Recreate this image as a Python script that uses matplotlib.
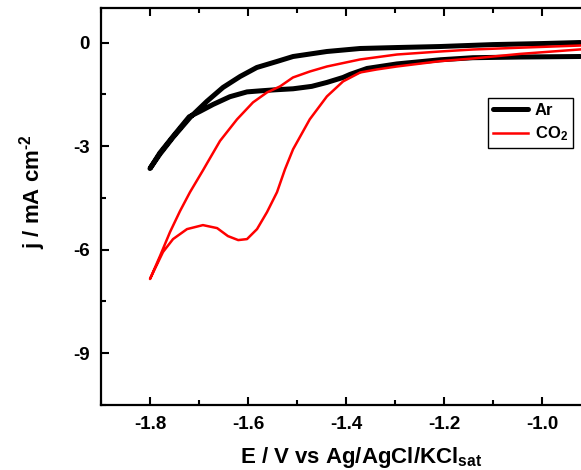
import matplotlib
matplotlib.use("Agg")
import matplotlib.pyplot as plt
from matplotlib.ticker import MultipleLocator

plt.rcParams["font.family"] = "Liberation Sans"
plt.rcParams["font.weight"] = "bold"
plt.rcParams["mathtext.fontset"] = "custom"
plt.rcParams["mathtext.default"] = "bf"
plt.rcParams["mathtext.bf"] = "Liberation Sans:bold"
plt.rcParams["mathtext.rm"] = "Liberation Sans:bold"

# Ar: cathodic branch (right to left) then return branch (left to right)
ar_E = [-0.922, -1.0, -1.1, -1.208, -1.296, -1.371, -1.439, -1.508, -1.541,
        -1.582, -1.616, -1.651, -1.684, -1.718, -1.753, -1.78, -1.80,
        -1.78, -1.753, -1.72, -1.698, -1.671, -1.637, -1.602, -1.575, -1.545,
        -1.508, -1.47, -1.439, -1.406, -1.392, -1.357, -1.296, -1.208,
        -1.141, -1.045, -0.922]
ar_j = [0.0, -0.03, -0.06, -0.116, -0.145, -0.173, -0.26, -0.405, -0.549,
        -0.723, -0.983, -1.301, -1.705, -2.168, -2.746, -3.237, -3.65,
        -3.2, -2.72, -2.15, -1.994, -1.792, -1.57, -1.43, -1.40, -1.37,
        -1.34, -1.27, -1.156, -1.012, -0.925, -0.751, -0.62, -0.50,
        -0.44, -0.42, -0.405]

# CO2: cathodic branch with reduction wave, then return branch
co2_E = [-0.922, -1.045, -1.141, -1.208, -1.296, -1.337, -1.371, -1.406,
         -1.439, -1.474, -1.508, -1.5245, -1.5408, -1.5612, -1.5816, -1.602,
         -1.62, -1.641, -1.663, -1.692, -1.7245, -1.753, -1.7735, -1.80,
         -1.7796, -1.7592, -1.7388, -1.7184, -1.6918, -1.6837, -1.6571,
         -1.6224, -1.5898, -1.5612, -1.5347, -1.5082, -1.4735, -1.4388,
         -1.3714, -1.2959, -1.208, -1.141, -1.045, -0.922]
co2_j = [-0.2, -0.33, -0.462, -0.54, -0.694, -0.78, -0.867, -1.127,
         -1.561, -2.225, -3.092, -3.671, -4.335, -4.913, -5.405, -5.694,
         -5.723, -5.607, -5.376, -5.289, -5.405, -5.694, -6.069, -6.85,
         -6.185, -5.491, -4.884, -4.335, -3.70, -3.50, -2.85,
         -2.225, -1.734, -1.445, -1.272, -1.012, -0.838, -0.694,
         -0.491, -0.347, -0.26, -0.202, -0.15, -0.087]

fig = plt.figure(figsize=(5.81, 4.70), dpi=100)
ax = fig.add_axes([101 / 581, 1 - 405 / 470, 490 / 581, 397 / 470])

ax.plot(ar_E, ar_j, color="black", lw=3.6, solid_capstyle="round",
        solid_joinstyle="round", label="Ar")
ax.plot(co2_E, co2_j, color="red", lw=1.8, solid_joinstyle="round",
        label="CO$_2$")

ax.set_xlim(-1.9, -0.9)
ax.set_ylim(-10.5, 1.0)
ax.xaxis.set_minor_locator(MultipleLocator(0.1))
ax.yaxis.set_minor_locator(MultipleLocator(1.5))
ax.set_xticks([-1.8, -1.6, -1.4, -1.2, -1.0])
ax.set_xticklabels(["-1.8", "-1.6", "-1.4", "-1.2", "-1.0"])
ax.set_yticks([0, -3, -6, -9])
ax.set_yticklabels(["0", "-3", "-6", "-9"])

ax.tick_params(which="both", direction="in", top=True, right=True, width=1.5,
               labelsize=13.5, pad=8)
ax.tick_params(which="major", length=6)
ax.tick_params(which="minor", length=3.5)
for s in ax.spines.values():
    s.set_linewidth(1.6)

fig.text(33 / 581, 1 - 192 / 470, r"j / mA cm$^{\text{-2}}$", rotation=90,
         ha="center", va="center", fontsize=16, fontweight="bold")
fig.text(361 / 581, 1 - 457 / 470, "E / V vs Ag/AgCl/KCl$_{sat}$",
         ha="center", va="center", fontsize=16, fontweight="bold")

leg = ax.legend(loc="upper left", bbox_to_anchor=(488 / 581, 1 - 98 / 470),
                bbox_transform=fig.transFigure, borderaxespad=0, fancybox=False,
                edgecolor="black", framealpha=1, fontsize=12, handlelength=2.1,
                handletextpad=0.4, borderpad=0.3, labelspacing=0.4)
leg.get_frame().set_linewidth(1.0)

fig.savefig("out.png", dpi=100)
